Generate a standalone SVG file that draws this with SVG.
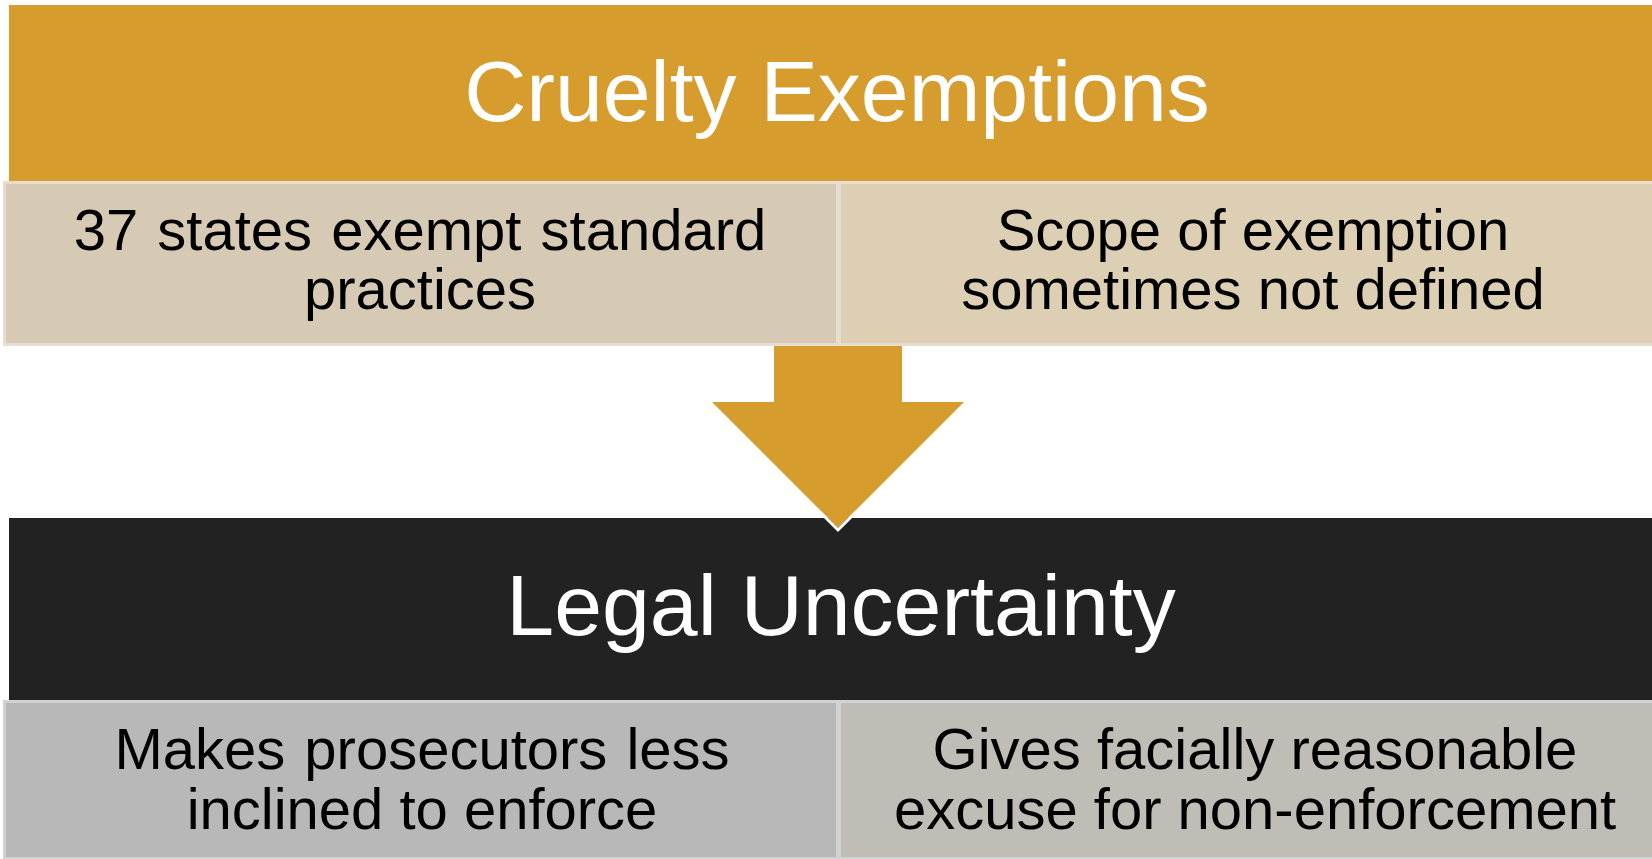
<svg xmlns="http://www.w3.org/2000/svg" width="1652" height="859" viewBox="0 0 1652 859">
<style>
text{font-family:"Liberation Sans",Arial,sans-serif;text-anchor:middle}
.title{font-size:86px;fill:#ffffff}
.body{font-size:58px;fill:#000000}
.wide{word-spacing:3px}
.sub{stroke:#e6ddd0;stroke-width:3}
.subg{stroke:#d2d2d0;stroke-width:3}
.arrow{fill:#d69c2e}
.arrow-edge{fill:none;stroke:#ffffff;stroke-width:3;stroke-linejoin:miter}
</style>
<rect width="1652" height="859" fill="#ffffff"/>
<g id="node-cruelty-exemptions">
<rect x="9" y="5" width="1645" height="176" fill="#d69c2e"/>
<text class="title" x="837" y="121">Cruelty Exemptions</text>
</g>
<g id="node-37-states">
<rect class="sub" x="4.5" y="182.5" width="833" height="162" fill="#d7cab5"/>
<text class="body wide" x="420" y="250">37 states exempt standard</text>
<text class="body" x="420" y="309">practices</text>
</g>
<g id="node-scope">
<rect class="sub" x="839.5" y="182.5" width="815" height="162" fill="#dccfb4"/>
<text class="body" x="1253" y="250">Scope of exemption</text>
<text class="body" x="1253" y="309">sometimes not defined</text>
</g>
<g id="node-legal-uncertainty">
<rect x="9" y="518" width="1645" height="182" fill="#222222"/>
<text class="title" x="841" y="635">Legal Uncertainty</text>
</g>
<g id="node-makes-prosecutors">
<rect class="subg" x="4.5" y="701.5" width="833" height="157" fill="#b8b8b8"/>
<text class="body wide" x="422" y="769">Makes prosecutors less</text>
<text class="body" x="422" y="829">inclined to enforce</text>
</g>
<g id="node-gives-excuse">
<rect class="subg" x="839.5" y="701.5" width="815" height="157" fill="#c0bdb6"/>
<text class="body" x="1255" y="769">Gives facially reasonable</text>
<text class="body" x="1255" y="829">excuse for non-enforcement</text>
</g>
<g id="connectors">
<path class="arrow" d="M774,346 L902,346 L902,402 L964,402 L838,528 L712,402 L774,402 Z"/>
<path class="arrow-edge" d="M820,512 L838,530 L856,512"/>
</g>
</svg>
